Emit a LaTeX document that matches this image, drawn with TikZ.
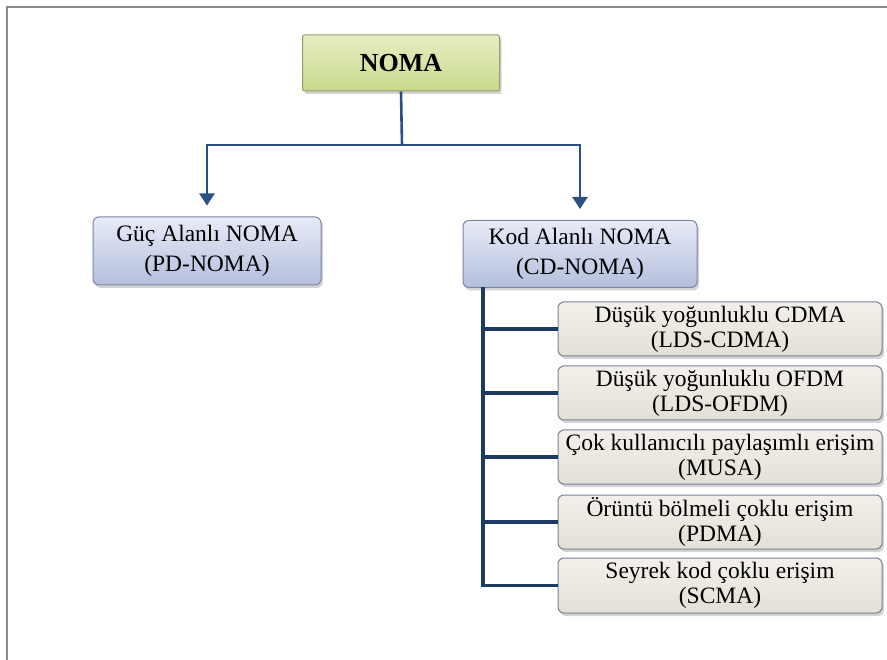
\documentclass[tikz,border=0pt]{standalone}
\usepackage{fontspec}
\setmainfont{Liberation Serif}
\usetikzlibrary{shadows,arrows.meta,calc}

\definecolor{frameGray}{HTML}{8C8C8C}
\definecolor{rootTop}{HTML}{E6EEC2}
\definecolor{rootBot}{HTML}{C8D98C}
\definecolor{rootLine}{HTML}{8F9E66}
\definecolor{mainTop}{HTML}{E8EBF7}
\definecolor{mainBot}{HTML}{B4BFDD}
\definecolor{mainLine}{HTML}{7A86A6}
\definecolor{subTop}{HTML}{F2F0EA}
\definecolor{subBot}{HTML}{E3E0D6}
\definecolor{subLine}{HTML}{76829A}
\definecolor{arrowBlue}{HTML}{2C4F82}
\definecolor{treeNavy}{HTML}{1F3A63}

\tikzset{
  box/.style={rectangle, rounded corners=6pt, align=center, inner sep=0pt,
    drop shadow={shadow xshift=2pt, shadow yshift=-3pt, opacity=0.35}},
  rootbox/.style={box, rounded corners=1.5pt, draw=rootLine, line width=1pt,
    top color=rootTop, bottom color=rootBot,
    minimum width=197pt, minimum height=56pt,
    font=\fontsize{26}{30}\selectfont\bfseries},
  mainbox/.style={box, draw=mainLine, line width=1pt,
    top color=mainTop, bottom color=mainBot,
    minimum height=68pt, font=\fontsize{23.5}{30}\selectfont},
  subbox/.style={box, draw=subLine, line width=1pt,
    top color=subTop, bottom color=subBot,
    minimum width=324pt, minimum height=54pt,
    font=\fontsize{23.5}{25}\selectfont},
  arr/.style={draw=arrowBlue, line width=2.6pt,
    -{Triangle[width=15pt,length=12pt]}, shorten >=11pt},
  tree/.style={draw=treeNavy, line width=3.2pt},
}

\begin{document}
\begin{tikzpicture}[x=1pt,y=-1pt]
\useasboundingbox (0,0) rectangle (887,660);

% frame lines along the top and left
\draw[frameGray, line width=2pt] (7,660) -- (7,7) -- (887,7);

% boxes
\node[rootbox] (noma) at (401,63) {NOMA};
\node[mainbox, minimum width=228pt] (pd) at (207,251) {Güç Alanlı NOMA\\(PD-NOMA)};
\node[mainbox, minimum width=234pt, minimum height=67pt] (cd) at (580,254) {Kod Alanlı NOMA\\(CD-NOMA)};

\node[subbox] (s1) at (720,329) {Düşük yoğunluklu CDMA\\(LDS-CDMA)};
\node[subbox] (s2) at (720,393) {Düşük yoğunluklu OFDM\\(LDS-OFDM)};
\node[subbox] (s3) at (720,457) {Çok kullanıcılı paylaşımlı erişim\\(MUSA)};
\node[subbox] (s4) at (720,522) {Örüntü bölmeli çoklu erişim\\(PDMA)};
\node[subbox, minimum height=55pt] (s5) at (720,585.5) {Seyrek kod çoklu erişim\\(SCMA)};

% arrows from the root
\coordinate (split) at (402,145);
\draw[draw=arrowBlue, line width=2.6pt] (noma.south) -- (split);
\draw[arr] (split) -| (pd.north);
\draw[arr] (split) -| (cd.north);

% tree from the code-domain box
\coordinate (trunk) at (483,287);
\draw[tree] (trunk) |- (s5.west);
\foreach \s in {s1,s2,s3,s4}
  \draw[tree] (trunk |- \s.west) -- (\s.west);
\end{tikzpicture}
\end{document}
